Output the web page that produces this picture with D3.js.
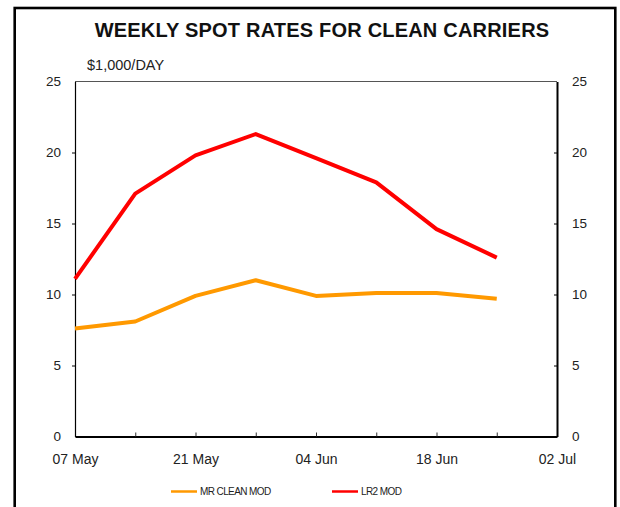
<!DOCTYPE html>
<html>
<head>
<meta charset="utf-8">
<script src="https://cdn.jsdelivr.net/npm/d3@7"></script>
<style>
  body { margin: 0; background: #fff; }
  svg { display: block; font-family: "Liberation Sans", Arial, sans-serif; }
</style>
</head>
<body>
<svg id="chart" width="620" height="507"></svg>
<script>
// weekly observations
var weeks = ["2001-05-07", "2001-05-14", "2001-05-21", "2001-05-28",
             "2001-06-04", "2001-06-11", "2001-06-18", "2001-06-25"];
var mrClean = [7.6, 8.1, 9.9, 11.0, 9.9, 10.1, 10.1, 9.7];
var lr2 = [11.1, 17.1, 19.8, 21.3, 19.6, 17.9, 14.6, 12.6];
var yTicks = [0, 5, 10, 15, 20, 25];
var seriesNames = ["MR CLEAN MOD", "LR2 MOD"];
var seriesColors = ["#ff9900", "#ff0000"];

var parse = d3.utcParse("%Y-%m-%d");
var dates = weeks.map(parse);
var xStart = parse("2001-05-07"), xEnd = parse("2001-07-02");

var svg = d3.select("#chart");
var pLeft = 75, pRight = 557, pTop = 81.5, pBottom = 436.5;

// outer frame
svg.append("rect").attr("x", 14.7).attr("y", 8).attr("width", 600.6).attr("height", 520)
  .attr("fill", "none").attr("stroke", "#000").attr("stroke-width", 2.6);

svg.append("text").attr("x", 322).attr("y", 36.7).attr("text-anchor", "middle")
  .attr("font-size", 20).attr("font-weight", "bold").attr("letter-spacing", 0.2).attr("fill", "#111")
  .text("WEEKLY SPOT RATES FOR CLEAN CARRIERS");

svg.append("text").attr("x", 87).attr("y", 70)
  .attr("font-size", 14.5).attr("fill", "#222").text("$1,000/DAY");

var x = d3.scaleUtc().domain([xStart, xEnd]).range([pLeft, pRight]);
var y = d3.scaleLinear().domain([0, 25]).range([pBottom, pTop]);

// plot box top
svg.append("line").attr("x1", pLeft).attr("x2", pRight).attr("y1", pTop).attr("y2", pTop)
  .attr("stroke", "#555").attr("stroke-width", 1);

var weekTicks = d3.utcDay.range(xStart, d3.utcDay.offset(xEnd, 1), 7);
var fmt = d3.utcFormat("%d %b");

var xAxis = svg.append("g").attr("transform", "translate(0," + pBottom + ")")
  .call(d3.axisBottom(x).tickValues(weekTicks).tickSizeInner(-4).tickSizeOuter(0)
    .tickPadding(18).tickFormat(function (d, i) { return i % 2 == 0 ? fmt(d) : ""; }));
xAxis.select(".domain").attr("stroke", "#000").attr("stroke-width", 2);
xAxis.selectAll(".tick line").attr("stroke", "#333");
xAxis.selectAll("text").attr("font-size", 14).attr("fill", "#222").attr("font-family", null);

var yLeft = svg.append("g").attr("transform", "translate(" + pLeft + ",0)")
  .call(d3.axisLeft(y).tickValues(yTicks).tickSizeInner(3).tickSizeOuter(0).tickPadding(11));
yLeft.select(".domain").attr("stroke", "#000").attr("stroke-width", 1.2);
yLeft.selectAll("text").attr("font-size", 13.5).attr("fill", "#222").attr("font-family", null);

var yRight = svg.append("g").attr("transform", "translate(" + pRight + ",0)")
  .call(d3.axisRight(y).tickValues(yTicks).tickSizeInner(-3).tickSizeOuter(0).tickPadding(15));
yRight.select(".domain").attr("stroke", "#000").attr("stroke-width", 2);
yRight.selectAll("text").attr("font-size", 13.5).attr("fill", "#222").attr("font-family", null);
yLeft.selectAll(".tick line").filter(function (d) { return d === 0 || d === 25; }).remove();
yRight.selectAll(".tick line").filter(function (d) { return d === 0 || d === 25; }).remove();

var line = d3.line().x(function (d, i) { return x(dates[i]); }).y(function (d) { return y(d); });

[mrClean, lr2].forEach(function (vals, k) {
  svg.append("path").datum(vals).attr("d", line)
    .attr("fill", "none").attr("stroke", seriesColors[k]).attr("stroke-width", 4)
    .attr("stroke-linejoin", "round");
});

// legend
var legendX = [171, 332];
seriesNames.forEach(function (name, k) {
  var g = svg.append("g").attr("transform", "translate(" + legendX[k] + ",491.5)");
  g.append("line").attr("x1", 0).attr("x2", 26).attr("stroke", seriesColors[k]).attr("stroke-width", 2.5);
  g.append("text").attr("x", 29).attr("y", 3.5).attr("font-size", 10).attr("letter-spacing", -0.6)
    .attr("fill", "#222").text(name);
});
</script>
</body>
</html>
